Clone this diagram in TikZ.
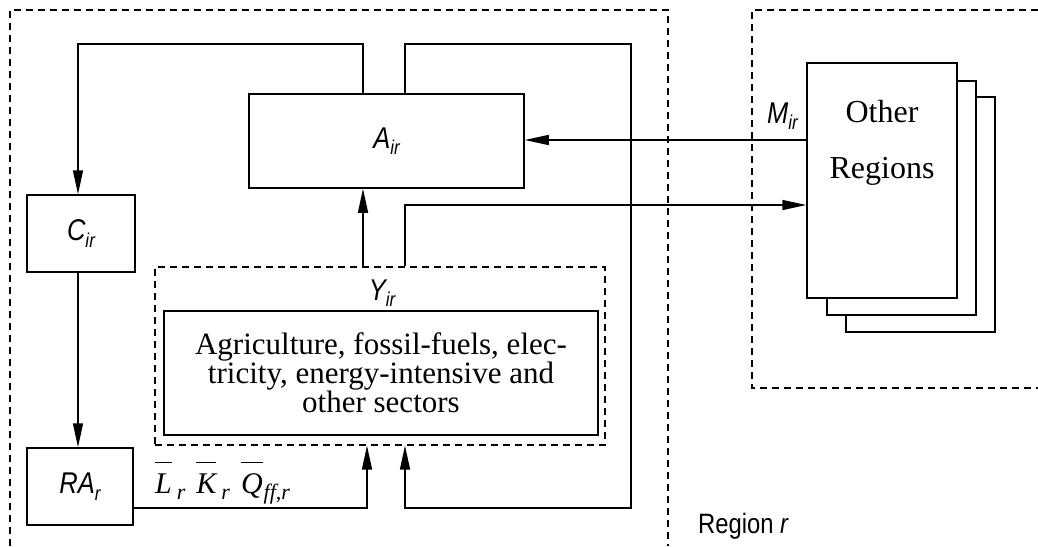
\documentclass[tikz,border=0pt]{standalone}
\usepackage{fontspec}
\setmainfont{Liberation Serif}
\newfontfamily\nsans[FakeStretch=0.85]{Liberation Sans}
\usetikzlibrary{arrows.meta}
\newcommand\sbs[1]{\raisebox{-0.22em}{\fontsize{20}{20}\selectfont #1}}
\newcommand\ssb[1]{\raisebox{-0.2em}{\fontsize{22}{22}\selectfont #1}}
\newcommand\ovl[1]{\setbox0\hbox{#1}\rlap{\raisebox{30pt}{\rule{\wd0}{1.3pt}}}\box0}
\begin{document}
\begin{tikzpicture}[x=1pt,y=-1pt,
  box/.style={draw, line width=1.5pt, inner sep=0pt},
  dsh/.style={line width=1.3pt, dash pattern=on 7pt off 5pt},
  conn/.style={line width=1.5pt},
  arr/.style={conn, -{Triangle[length=24pt,width=10pt]}},
  lab/.style={font=\fontsize{30}{30}\selectfont\nsans\itshape, inner sep=0pt},
  serif/.style={font=\fontsize{31}{29}\selectfont, inner sep=0pt}]
\useasboundingbox (0,0) rectangle (1038,546);
% region outlines
\draw[dsh] (10,546) -- (10,10) -- (668,10) -- (668,546);
\draw[dsh] (1038,10) -- (752,10) -- (752,388) -- (1038,388);
% boxes
\node[box, lab, minimum width=275pt, minimum height=94pt] (A) at (386.5,141) {A\sbs{ir}};
\node[box, lab, minimum width=108pt, minimum height=77pt] (C) at (81,233.5) {C\sbs{ir}};
\node[box, lab, minimum width=106pt, minimum height=77pt] (RA) at (80,486.5) {RA\sbs{r}};
\node[draw, dsh, minimum width=450pt, minimum height=178pt] (Y) at (380,356) {};
\node[box, serif, align=center, minimum width=434pt, minimum height=124pt] (S) at (381,373)
  {Agriculture, fossil-fuels, elec-\\tricity, energy-intensive and\\other sectors};
\node[lab, anchor=base] (yl) at (382,300) {Y\sbs{ir}};
% other regions stack
\node[box, fill=white, minimum width=149pt, minimum height=235pt] (or3) at (920.5,214.5) {};
\node[box, fill=white, minimum width=149pt, minimum height=234pt] (or2) at (901.5,198) {};
\node[box, fill=white, minimum width=150pt, minimum height=235pt] (or1) at (882,180.5) {};
\node[serif, font=\fontsize{32}{32}\selectfont, anchor=base] (oth) at (882,122) {Other};
\node[serif, font=\fontsize{32}{32}\selectfont, anchor=base] (reg) at (882,178) {Regions};
% labels
\node[lab, anchor=base east] (M) at (798,123) {M\sbs{ir}};
\node[lab, font=\fontsize{28}{28}\selectfont\nsans, anchor=base west] (rr) at (698,533) {Region \itshape r};
\node[anchor=base west, inner sep=0pt, font=\fontsize{30}{30}\selectfont\itshape] (F) at (155,493)
  {\ovl{L}\hspace{5pt}\ssb{r}\hspace{11pt}\ovl{K}\hspace{5pt}\ssb{r}\hspace{11pt}\ovl{Q}\hspace{1pt}\ssb{ff,r}};
% helper coordinates
\coordinate (xa) at (363,0);
\coordinate (xb) at (405,0);
\coordinate (xc) at (78,0);
\coordinate (xr) at (367,0);
\coordinate (right) at (631,0);
\coordinate (top) at (0,44);
\coordinate (bot) at (0,508);
\coordinate (ymid) at (0,205);
\coordinate (ym) at (0,140);
% connectors
\draw[arr] (A.north -| xa) -- (xa |- top) -| (C.north -| xc);
\draw[arr] (A.north -| xb) -- (xb |- top) -- (right |- top) -- (right |- bot) -- (xb |- bot) -- (Y.south -| xb);
\draw[arr] (C.south -| xc) -- (RA.north -| xc);
\draw[arr] (RA.east |- bot) -- (xr |- bot) -- (Y.south -| xr);
\draw[arr] (Y.north -| xa) -- (A.south -| xa);
\draw[arr] (Y.north -| xb) -- (xb |- ymid) -- (or1.west |- ymid);
\draw[arr] (or1.west |- ym) -- (A.east |- ym);
\end{tikzpicture}
\end{document}
